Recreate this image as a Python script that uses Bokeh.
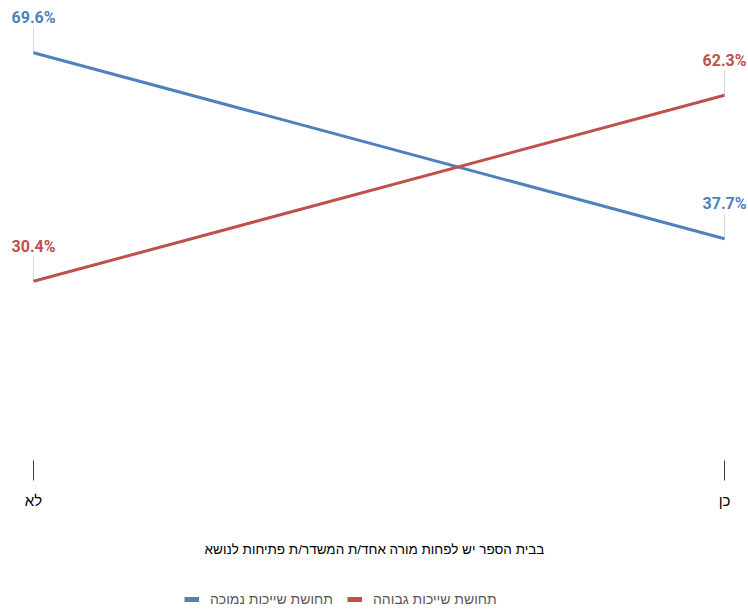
from bokeh.plotting import figure
from bokeh.layouts import column
from bokeh.models import ColumnDataSource, FixedTicker, Legend, LegendItem
from bokeh.core.properties import value
from bokeh.embed import file_html
from bokeh.resources import INLINE

# Data
categories = ["לא", "כן"]
low_belonging = [69.6, 37.7]
high_belonging = [30.4, 62.3]
series_names = ["תחושת שייכות נמוכה", "תחושת שייכות גבוהה"]
x_title = "בבית הספר יש לפחות מורה אחד/ת המשדר/ת פתיחות לנושא"

BLUE = "#4F81BD"
RED = "#C0504D"
COLORS = [BLUE, RED]

W, H = 748, 611
FRAME_H = 462
AXIS_H = 95
LEGEND_H = H - FRAME_H - AXIS_H
Y_START, Y_END = -0.69, 78.56
X_START, X_END = -0.0478, 1.0347

xs = list(range(len(categories)))

p = figure(frame_width=W, frame_height=FRAME_H, output_backend="svg",
           toolbar_location=None,
           x_range=(X_START, X_END), y_range=(Y_START, Y_END),
           min_border_left=0, min_border_right=0, min_border_top=0,
           min_border_bottom=AXIS_H)
p.outline_line_color = None
p.grid.visible = False
p.yaxis.visible = False
p.background_fill_color = "white"
p.border_fill_color = "white"

ax = p.xaxis[0]
ax.ticker = FixedTicker(ticks=xs)
ax.major_label_overrides = {i: c for i, c in enumerate(categories)}
ax.axis_line_color = None
ax.minor_tick_line_color = None
ax.major_tick_in = 2
ax.major_tick_out = 18
ax.major_tick_line_color = "#404040"
ax.major_tick_line_width = 1
ax.major_label_standoff = 11
ax.major_label_text_font = "Liberation Sans"
ax.major_label_text_font_size = "15px"
ax.major_label_text_color = "#000000"
ax.axis_label = x_title
ax.axis_label_text_font = "Liberation Sans"
ax.axis_label_text_font_size = "13.5px"
ax.axis_label_text_font_style = "normal"
ax.axis_label_text_color = "#000000"
ax.axis_label_standoff = 30

# pixel scale used to turn the label gap into data units
px_per_unit = FRAME_H / (Y_END - Y_START)
LEADER_PX = 25
LABEL_PX = 35

for vals, color in ((low_belonging, BLUE), (high_belonging, RED)):
    src = ColumnDataSource(dict(
        x=xs, y=vals,
        ytop=[v + LEADER_PX / px_per_unit for v in vals],
        txt=[f"{v:.1f}%" for v in vals],
    ))
    p.segment(x0="x", y0="y", x1="x", y1="ytop", source=src,
              line_color="#d9d9d9", line_width=1)
    p.line("x", "y", source=src, line_color=color, line_width=3)
    p.text("x", "y", text="txt", source=src, y_offset=-LABEL_PX,
           text_align="center", text_baseline="middle",
           text_color=color, text_font_size="16px", text_font_style="bold",
           text_font=value("'Liberation Sans Narrow', Roboto"))

# strip under the chart that carries the legend
leg_fig = figure(frame_width=W, frame_height=LEGEND_H, output_backend="svg",
                 toolbar_location=None, min_border=0,
                 x_range=(0, 1), y_range=(0, 1))
leg_fig.outline_line_color = None
leg_fig.axis.visible = False
leg_fig.grid.visible = False
leg_fig.background_fill_color = "white"
leg_fig.border_fill_color = "white"

nan = float("nan")
swatches = [leg_fig.line(x=[nan], y=[nan], line_color=c, line_width=5)
            for c in COLORS]
legend = Legend(items=[LegendItem(label=n, renderers=[r])
                       for n, r in zip(series_names, swatches)],
                orientation="horizontal", location=(184, 6),
                label_text_font="Liberation Sans", label_text_font_size="14px",
                label_text_color="#595959", glyph_width=15, glyph_height=6,
                label_standoff=11, spacing=14, border_line_color=None,
                background_fill_alpha=0, margin=0, padding=4)
leg_fig.add_layout(legend, "center")

layout = column(p, leg_fig, spacing=0)
open("out.html", "w").write(file_html(layout, INLINE))
